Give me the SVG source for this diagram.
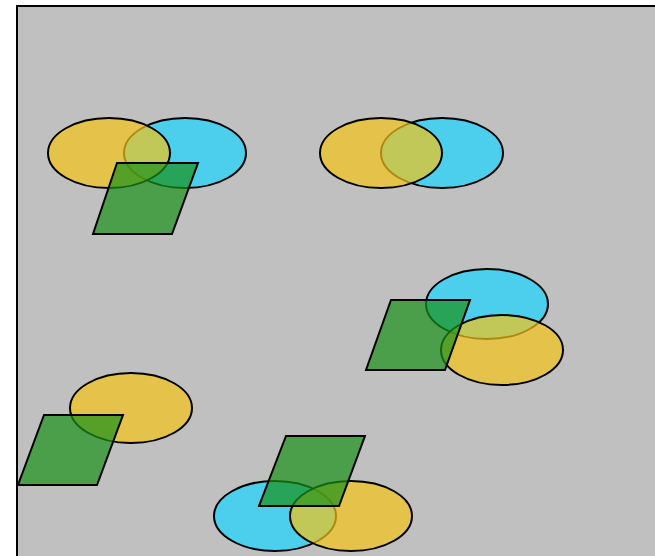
<svg xmlns="http://www.w3.org/2000/svg" width="655" height="556" viewBox="0 0 655 556">
<style>
.y{fill:#f5c518;fill-opacity:0.7;stroke:#000;stroke-width:2}
.b{fill:#1ad5ff;fill-opacity:0.7;stroke:#000;stroke-width:2}
.g{fill:#1a921a;fill-opacity:0.7;stroke:#000;stroke-width:2}
</style>
<rect x="17" y="6" width="650" height="560" fill="#c0c0c0" stroke="#000" stroke-width="2"/>
<g id="group1">
<ellipse class="b" cx="185" cy="153" rx="61" ry="35"/>
<ellipse class="y" cx="109" cy="153" rx="61" ry="35"/>
<polygon class="g" points="117,163 198,163 172,234 93,234"/>
</g>
<g id="group2">
<ellipse class="b" cx="442" cy="153" rx="61" ry="35"/>
<ellipse class="y" cx="381" cy="153" rx="61" ry="35"/>
</g>
<g id="group3">
<ellipse class="b" cx="487" cy="304" rx="61" ry="35"/>
<ellipse class="y" cx="502" cy="350" rx="61" ry="35"/>
<polygon class="g" points="391,300 470,300 445,370 366,370"/>
</g>
<g id="group4">
<ellipse class="y" cx="131" cy="408" rx="61" ry="35"/>
<polygon class="g" points="44,415 123,415 97,485 18,485"/>
</g>
<g id="group5">
<ellipse class="b" cx="275" cy="516" rx="61" ry="35"/>
<ellipse class="y" cx="351" cy="516" rx="61" ry="35"/>
<polygon class="g" points="286,436 365,436 339,506 259,506"/>
</g>
<g id="connectors"/>
</svg>
